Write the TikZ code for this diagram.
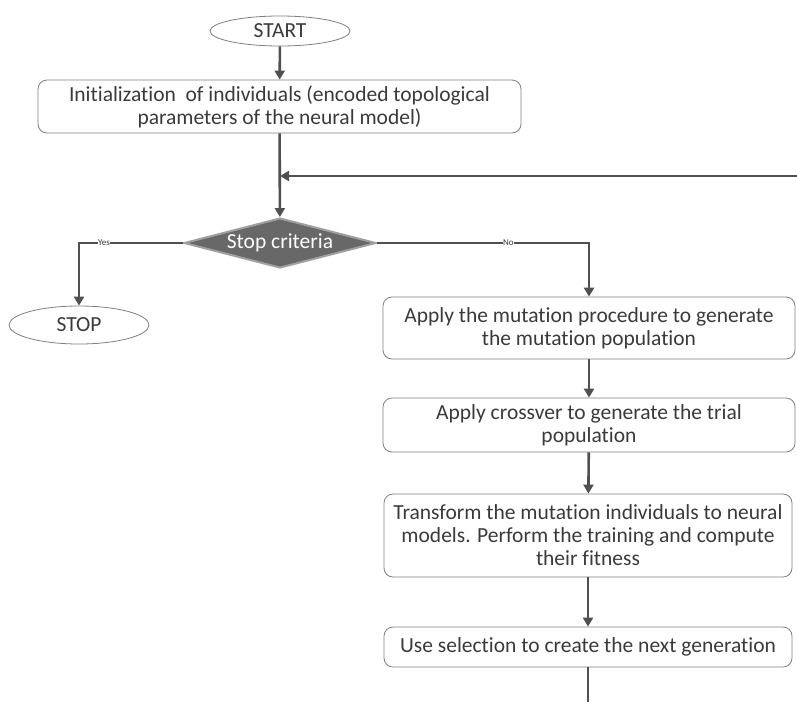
\documentclass[tikz,border=0pt]{standalone}
\usepackage{fontspec}
\setmainfont{Carlito}[RawFeature=-liga]
\usetikzlibrary{shapes.geometric,arrows.meta}
\definecolor{lineC}{HTML}{505050}
\definecolor{boxC}{HTML}{7F7F7F}
\definecolor{diaF}{HTML}{686868}
\definecolor{diaB}{HTML}{A0A0A0}
\definecolor{txtC}{HTML}{3A3A3A}
\tikzset{
  x=1pt,y=-1pt,
  every node/.style={font=\fontsize{21.5}{23}\selectfont, text=txtC},
  procbox/.style={draw=boxC, line width=0.8pt, rounded corners=9pt, align=center, inner sep=0pt},
  term/.style={draw=boxC, line width=0.8pt, ellipse, inner sep=0pt},
  flow/.style={draw=lineC, line width=2.6pt, -{Triangle[length=9pt,width=10pt]}},
  plainflow/.style={draw=lineC, line width=2.6pt},
  lbl/.style={font=\fontsize{9}{10}\selectfont, fill=white, inner sep=0.5pt, text=txtC}
}
\begin{document}
\begin{tikzpicture}
\useasboundingbox (0,0) rectangle (797,702);
\node[term, minimum width=140, minimum height=30] (start) at (280,31) {START};
\node[procbox, minimum width=483, minimum height=53] (init) at (279.5,106.5)
  {Initialization\ \ of individuals (encoded topological\\parameters of the neural model)};
\node[diamond, fill=diaF, draw=diaB, line width=2pt, minimum width=192, minimum height=50,
      aspect=3.84, inner sep=0pt, text=white] (dec) at (280,243) {Stop criteria};
\node[term, minimum width=140, minimum height=38] (stop) at (79,325) {STOP};
\node[procbox, minimum width=412, minimum height=62] (b1) at (589,328)
  {Apply the mutation procedure to generate\\the mutation population};
\node[procbox, minimum width=412, minimum height=54] (b2) at (589,425)
  {Apply crossver to generate the trial\\population};
\node[procbox, minimum width=408, minimum height=83] (b3) at (588,535.5)
  {Transform the mutation individuals to neural\\models. Perform the training and compute\\their fitness};
\node[procbox, minimum width=408, minimum height=40] (b4) at (588,647)
  {Use selection to create the next generation};
\coordinate (fb) at (797,176);
\coordinate (join) at (280,176);
\coordinate (tail) at (588,702);

\draw[flow] (start) -- (init);
\draw[flow] (init) -- (dec);
\draw[flow] (fb) -- (join);
\draw[flow] (dec.west) -| node[lbl, pos=0.38]{Yes} (stop.north);
\draw[flow] (dec.east) -| node[lbl, pos=0.31]{No} (b1.north);
\draw[flow] (b1) -- (b2);
\draw[flow] (b2) -- (b3);
\draw[flow] (b3) -- (b4);
\draw[plainflow] (b4) -- (tail);
\end{tikzpicture}
\end{document}
